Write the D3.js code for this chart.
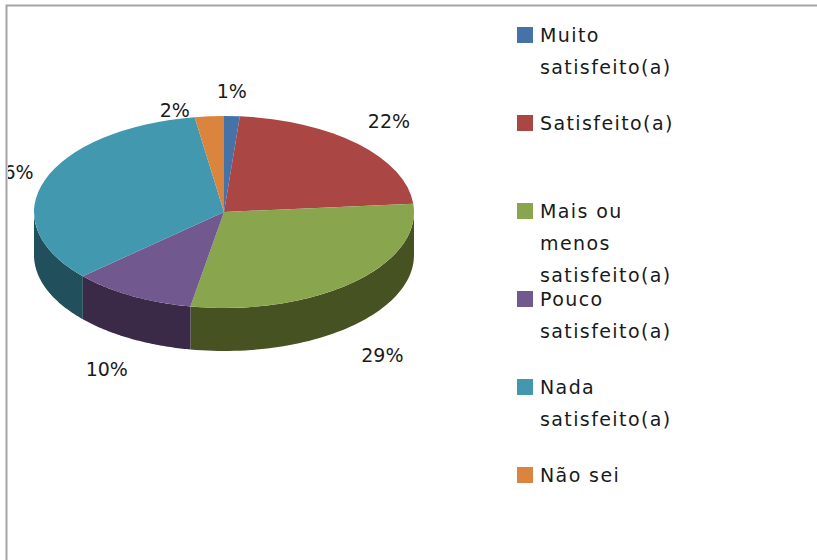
<!DOCTYPE html>
<html><head><meta charset="utf-8">
<style>html,body{margin:0;padding:0;background:#fff;overflow:hidden}svg{display:block}
text{font-family:"DejaVu Sans",sans-serif;fill:#1a1a1a}</style>
<script src="https://cdn.jsdelivr.net/npm/d3@7/dist/d3.min.js"></script></head>
<body><svg id="c" width="817" height="560"></svg>
<script>
// Data
const categories = ["Muito satisfeito(a)","Satisfeito(a)","Mais ou menos satisfeito(a)","Pouco satisfeito(a)","Nada satisfeito(a)","Não sei"];
const legendLines = [["Muito","satisfeito(a)"],["Satisfeito(a)"],["Mais ou","menos","satisfeito(a)"],["Pouco","satisfeito(a)"],["Nada","satisfeito(a)"],["Não sei"]];
const sliceValues = [1.33,22.3,29.2,10.5,34.2,2.47];
const percentLabels = ["1%","22%","29%","10%","36%","2%"];
const topColors = ["#4572a7","#aa4643","#89a54e","#71588f","#4198af","#db843d"];
const wallColors = ["#2a4464","#662a28","#475223","#3b2a47","#224f5c","#834f24"];

// Layout
const W=817,H=560,cx=224,cy=212,rx=190,ry=96,depth=43;
const labelRx=235,labelRy=130;
const labelNudge=[[-2,9],[-1,1],[0,4],[-3,0],[10,3],[-31,28]];
const svg=d3.select("#c");
svg.append("defs").append("clipPath").attr("id","frame").append("rect").attr("x",8).attr("y",7).attr("width",W-8).attr("height",H-7);
svg.append("rect").attr("width",W).attr("height",H).attr("fill","#fff");
svg.append("path").attr("d",`M6.5,${H}V5.5H${W}`).attr("fill","none").attr("stroke","#a3a3a3").attr("stroke-width",2);

const pie=d3.pie().sort(null).value(d=>d).startAngle(0).endAngle(2*Math.PI);
const arcs=pie(sliceValues);
const g=svg.append("g").attr("clip-path","url(#frame)");

// Side walls: front half only (pie angle PI/2 .. 3PI/2)
const wall=d3.area().x(a=>cx+rx*Math.sin(a)).y0(a=>cy-ry*Math.cos(a)).y1(a=>cy-ry*Math.cos(a)+depth);
arcs.forEach((d,i)=>{
  const a0=Math.max(d.startAngle,Math.PI/2),a1=Math.min(d.endAngle,3*Math.PI/2);
  if(a1<=a0)return;
  const n=60,pts=d3.range(n+1).map(k=>a0+(a1-a0)*k/n);
  g.append("path").attr("d",wall(pts)).attr("fill",wallColors[i]);
});
// Top face
const arc=d3.arc().innerRadius(0).outerRadius(rx);
g.append("g").attr("transform",`translate(${cx},${cy}) scale(1,${ry/rx})`)
 .selectAll("path").data(arcs).join("path").attr("d",arc).attr("fill",(d,i)=>topColors[i]);

// Percent labels
g.selectAll("text.pct").data(arcs).join("text").attr("class","pct")
 .attr("x",(d,i)=>cx+labelRx*Math.sin((d.startAngle+d.endAngle)/2)+labelNudge[i][0])
 .attr("y",(d,i)=>{const m=(d.startAngle+d.endAngle)/2,c=Math.cos(m);return cy-labelRy*c+(c<0?depth:0)+labelNudge[i][1];})
 .attr("text-anchor","middle").attr("dominant-baseline","central")
 .attr("font-size",19).text((d,i)=>percentLabels[i]);

// Legend
const legendY=d3.scaleLinear().domain([0,5]).range([27,467]);
const lg=svg.selectAll("g.lg").data(categories).join("g").attr("class","lg").attr("transform",(d,i)=>`translate(517,${legendY(i)})`);
lg.append("rect").attr("width",16).attr("height",16).attr("fill",(d,i)=>topColors[i]);
lg.each(function(d,i){
  d3.select(this).selectAll("text").data(legendLines[i]).join("text")
   .attr("x",23).attr("y",(t,k)=>14.5+k*32).attr("font-size",19).attr("letter-spacing",1.4).text(t=>t);
});
</script></body></html>
